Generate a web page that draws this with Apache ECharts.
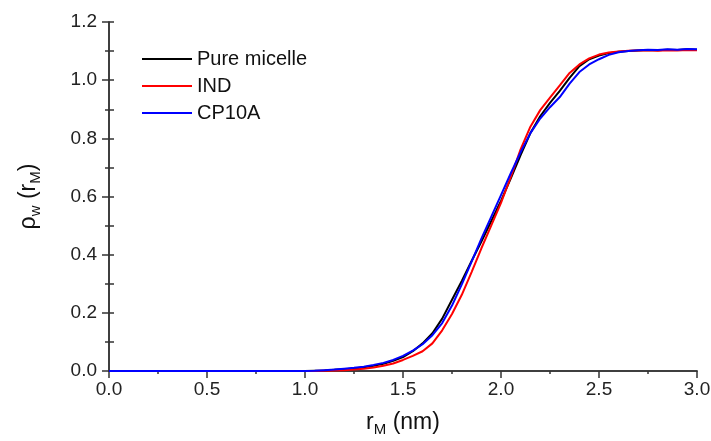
<!DOCTYPE html>
<html>
<head>
<meta charset="utf-8">
<script src="https://cdn.jsdelivr.net/npm/echarts@6/dist/echarts.min.js"></script>
<style>
html,body{margin:0;padding:0;background:#fff;}
#chart{width:711px;height:441px;}
</style>
</head>
<body>
<div id="chart"></div>
<script>
// r_M (nm)
var rValues = [
  0.00,0.05,0.10,0.15,0.20,0.25,0.30,0.35,0.40,0.45,
  0.50,0.55,0.60,0.65,0.70,0.75,0.80,0.85,0.90,0.95,
  1.00,1.05,1.10,1.15,1.20,1.25,1.30,1.35,1.40,1.45,
  1.50,1.55,1.60,1.65,1.70,1.75,1.80,1.85,1.90,1.95,
  2.00,2.05,2.10,2.15,2.20,2.25,2.30,2.35,2.40,2.45,
  2.50,2.55,2.60,2.65,2.70,2.75,2.80,2.85,2.90,2.95,3.00
];
var pureMicelle = [
  0,0,0,0,0,0,0,0,0,0,
  0,0,0,0,0,0,0,0,0,0,
  0.000,0.001,0.002,0.004,0.006,0.009,0.013,0.018,0.025,0.035,
  0.048,0.068,0.095,0.130,0.180,0.245,0.310,0.378,0.445,0.515,
  0.585,0.662,0.742,0.818,0.876,0.922,0.963,1.008,1.048,1.072,
  1.085,1.093,1.098,1.100,1.102,1.104,1.103,1.105,1.104,1.106,1.105
];
var ind = [
  0,0,0,0,0,0,0,0,0,0,
  0,0,0,0,0,0,0,0,0,0,
  0.000,0.000,0.001,0.002,0.003,0.005,0.008,0.012,0.018,0.026,
  0.038,0.052,0.068,0.095,0.140,0.196,0.262,0.340,0.422,0.500,
  0.578,0.667,0.762,0.840,0.897,0.940,0.982,1.025,1.054,1.075,
  1.088,1.095,1.099,1.101,1.102,1.103,1.101,1.103,1.102,1.104,1.103
];
var cp10a = [
  0,0,0,0,0,0,0,0,0,0,
  0,0,0,0,0,0,0,0,0,0,
  0.000,0.001,0.003,0.005,0.008,0.011,0.015,0.021,0.028,0.038,
  0.052,0.070,0.092,0.123,0.165,0.225,0.298,0.376,0.455,0.530,
  0.605,0.680,0.752,0.818,0.868,0.907,0.942,0.988,1.028,1.054,
  1.072,1.087,1.096,1.100,1.103,1.105,1.104,1.106,1.105,1.107,1.106
];
var seriesNames = ['Pure micelle','IND','CP10A'];
var seriesColors = ['#000000','#ff0000','#0000ff'];
var xTicks = [0.0,0.5,1.0,1.5,2.0,2.5,3.0];
var yTicks = [0.0,0.2,0.4,0.6,0.8,1.0,1.2];

function pairs(ys){ return rValues.map(function(x,i){ return [x, ys[i]]; }); }
var allData = [pureMicelle, ind, cp10a];

var axisColor = '#333333';
var font = 'Arial, "Liberation Sans", sans-serif';

var chart = echarts.init(document.getElementById('chart'));
chart.setOption({
  backgroundColor: '#ffffff',
  animation: false,
  grid: {left:109, right:14, top:22, bottom:70, containLabel:false, outerBoundsMode:'none'},
  legend: {
    orient:'vertical', left:137, top:44, itemWidth:50, itemHeight:2, itemGap:7,
    icon:'rect',
    data: seriesNames,
    textStyle:{fontFamily:font, fontSize:20, color:'#111', lineHeight:20, padding:[0,0,0,0]}
  },
  xAxis: [{
    type:'value', min:xTicks[0], max:xTicks[xTicks.length-1], interval:0.5,
    position:'bottom',
    axisLine:{show:true, lineStyle:{color:axisColor, width:1.5}},
    axisTick:{show:true, length:7, lineStyle:{color:axisColor, width:1.5}},
    minorTick:{show:true, splitNumber:2, length:3, lineStyle:{color:axisColor, width:1.5}},
    splitLine:{show:false},
    axisLabel:{fontFamily:font, fontSize:19, color:'#222', margin:9,
      formatter:function(v){return v.toFixed(1);}},
    name:'{r|r}{sub|M}{r| (nm)}', nameLocation:'middle', nameGap:37,
    nameTextStyle:{rich:{
      r:{fontFamily:font, fontSize:23, color:'#111'},
      sub:{fontFamily:font, fontSize:15, color:'#111', padding:[14,0,0,0]}
    }}
  },{
    type:'value', min:0, max:3, position:'top',
    axisLine:{show:true, lineStyle:{color:axisColor, width:1.5}},
    axisTick:{show:false}, axisLabel:{show:false}, splitLine:{show:false}
  }],
  yAxis: [{
    type:'value', min:yTicks[0], max:yTicks[yTicks.length-1], interval:0.2,
    position:'left',
    axisLine:{show:true, lineStyle:{color:axisColor, width:1.5}},
    axisTick:{show:true, length:7, lineStyle:{color:axisColor, width:1.5}},
    minorTick:{show:true, splitNumber:2, length:4, lineStyle:{color:axisColor, width:1.5}},
    splitLine:{show:false},
    axisLabel:{fontFamily:font, fontSize:19, color:'#222', margin:12,
      formatter:function(v){return v.toFixed(1);}},
    name:'{r|ρ}{sub|w}{r| (r}{sub|M}{r|)}', nameLocation:'middle', nameGap:66,
    nameTextStyle:{rich:{
      r:{fontFamily:font, fontSize:23, color:'#111'},
      sub:{fontFamily:font, fontSize:15, color:'#111', padding:[14,0,0,0]}
    }}
  },{
    type:'value', min:0, max:1.2, interval:0.2, position:'right',
    axisLine:{show:true, lineStyle:{color:axisColor, width:1.5}},
    axisTick:{show:true, length:5, lineStyle:{color:axisColor, width:1.5}},
    minorTick:{show:true, splitNumber:2, length:5, lineStyle:{color:axisColor, width:1.5}},
    axisLabel:{show:false}, splitLine:{show:false}
  }],
  series: seriesNames.map(function(n,i){
    return {
      name:n, type:'line', xAxisIndex:0, yAxisIndex:0,
      data: pairs(allData[i]), showSymbol:false, symbol:'none',
      lineStyle:{color:seriesColors[i], width:2}, itemStyle:{color:seriesColors[i]},
      smooth:false
    };
  })
});
</script>
</body>
</html>
